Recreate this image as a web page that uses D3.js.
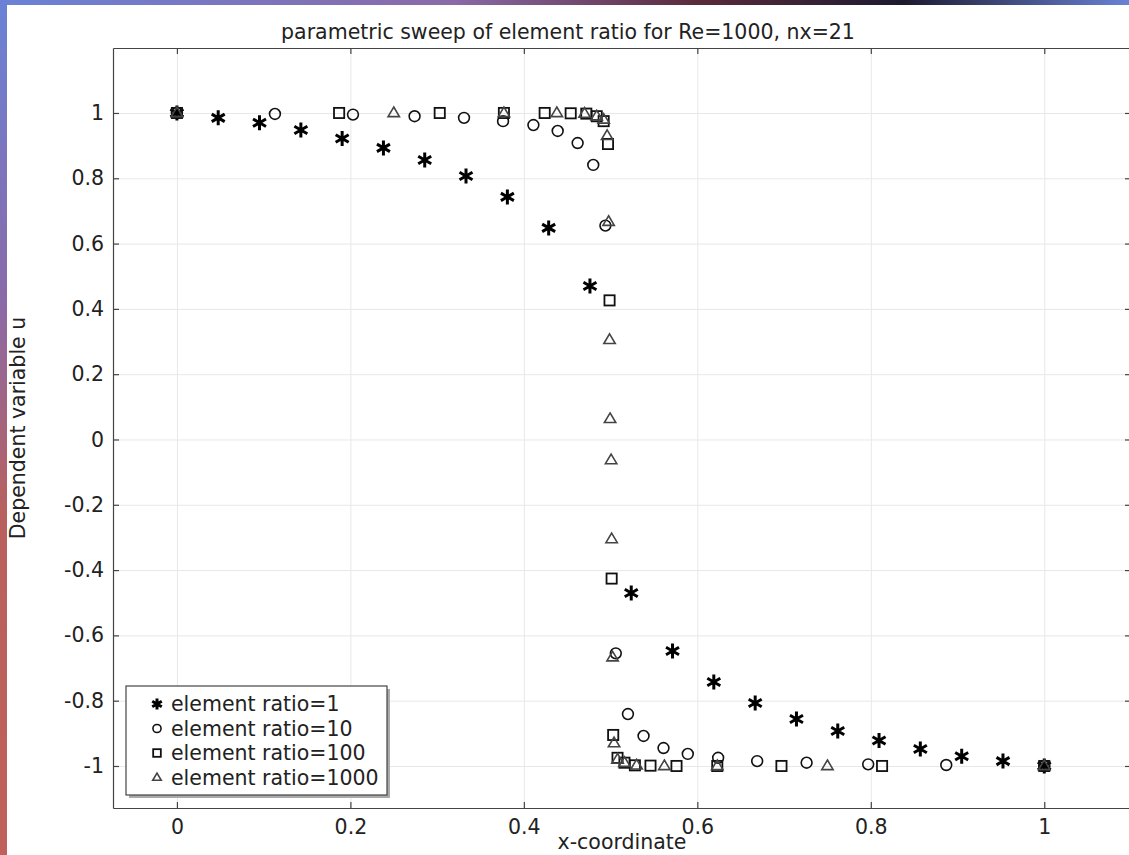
<!DOCTYPE html>
<html>
<head>
<meta charset="utf-8">
<script src="https://cdn.jsdelivr.net/npm/d3@7"></script>
<style>
  body { margin: 0; background: #fff; }
  svg { display: block; font-family: "DejaVu Sans", sans-serif; }
</style>
</head>
<body>
<div id="chart"></div>
<script>
// data: nodes of the 21-element mesh for each element ratio
var seriesNames = ['element ratio=1', 'element ratio=10', 'element ratio=100', 'element ratio=1000'];
var seriesMarkers = ['asterisk', 'circle', 'square', 'triangle'];

var xRatio1 = [0, 0.0476, 0.0952, 0.1429, 0.1905, 0.2381, 0.2857, 0.3333, 0.381, 0.4286, 0.4762,
    0.5238, 0.5714, 0.619, 0.6667, 0.7143, 0.7619, 0.8095, 0.8571, 0.9048, 0.9524, 1];
var uRatio1 = [1, 0.985, 0.97, 0.948, 0.922, 0.893, 0.856, 0.807, 0.743, 0.648, 0.47,
    -0.47, -0.648, -0.743, -0.807, -0.856, -0.893, -0.922, -0.948, -0.97, -0.985, -1];

var xRatio10 = [0, 0.113, 0.203, 0.274, 0.331, 0.376, 0.411, 0.439, 0.462, 0.48, 0.494,
    0.506, 0.52, 0.538, 0.561, 0.589, 0.624, 0.669, 0.726, 0.797, 0.887, 1];
var uRatio10 = [1, 0.997, 0.995, 0.99, 0.985, 0.975, 0.963, 0.945, 0.908, 0.841, 0.655,
    -0.655, -0.841, -0.908, -0.945, -0.963, -0.975, -0.985, -0.99, -0.995, -0.997, -1];

var xRatio100 = [0, 0.187, 0.303, 0.377, 0.424, 0.454, 0.472, 0.484, 0.492, 0.497, 0.4988,
    0.5012, 0.503, 0.508, 0.516, 0.528, 0.546, 0.576, 0.623, 0.697, 0.813, 1];
var uRatio100 = [1, 1, 1, 1, 1, 0.999, 0.998, 0.99, 0.975, 0.905, 0.426,
    -0.426, -0.905, -0.975, -0.99, -0.998, -0.999, -1, -1, -1, -1, -1];

var xRatio1000 = [0, 0.25, 0.377, 0.438, 0.47, 0.484, 0.492, 0.496, 0.4977, 0.4988, 0.4994,
    0.5006, 0.5012, 0.5023, 0.504, 0.508, 0.516, 0.53, 0.562, 0.623, 0.75, 1];
var uRatio1000 = [1, 1, 1, 1, 0.998, 0.99, 0.98, 0.93, 0.667, 0.305, 0.063,
    -0.063, -0.305, -0.667, -0.93, -0.98, -0.99, -0.998, -1, -1, -1, -1];

var xTicks = [0, 0.2, 0.4, 0.6, 0.8, 1];
var yTicks = [-1, -0.8, -0.6, -0.4, -0.2, 0, 0.2, 0.4, 0.6, 0.8, 1];

var allX = [xRatio1, xRatio10, xRatio100, xRatio1000];
var allU = [uRatio1, uRatio10, uRatio100, uRatio1000];

var W = 1129, H = 855;
var margin = {top: 48, right: -2, bottom: 47, left: 113};
var width = W - margin.left - margin.right,
    height = H - margin.top - margin.bottom;
var fontSize = '20.5px';

var svg = d3.select('#chart')
    .append('svg')
    .attr('width', W)
    .attr('height', H);

//Window frame decoration around the screenshot
var defs = svg.append('defs');
var gLeft = defs.append('linearGradient').attr('id', 'frameLeft')
    .attr('x1', 0).attr('y1', 0).attr('x2', 0).attr('y2', 1);
gLeft.append('stop').attr('offset', '0%').attr('stop-color', '#6a82d6');
gLeft.append('stop').attr('offset', '35%').attr('stop-color', '#8a6aa8');
gLeft.append('stop').attr('offset', '60%').attr('stop-color', '#b8605e');
gLeft.append('stop').attr('offset', '100%').attr('stop-color', '#c0605a');
var gTop = defs.append('linearGradient').attr('id', 'frameTop')
    .attr('x1', 0).attr('y1', 0).attr('x2', 1).attr('y2', 0);
gTop.append('stop').attr('offset', '0%').attr('stop-color', '#6a82d6');
gTop.append('stop').attr('offset', '40%').attr('stop-color', '#8a6aa8');
gTop.append('stop').attr('offset', '62%').attr('stop-color', '#5a2a3a');
gTop.append('stop').attr('offset', '80%').attr('stop-color', '#1c1a30');
gTop.append('stop').attr('offset', '100%').attr('stop-color', '#6a82d6');
svg.append('rect').attr('x', 0).attr('y', 0).attr('width', W).attr('height', 5).style('fill', 'url(#frameTop)');
svg.append('rect').attr('x', 0).attr('y', 0).attr('width', 7).attr('height', H).style('fill', 'url(#frameLeft)');

var x = d3.scaleLinear().domain([-0.0737, 1.1]).range([0, width]);
var y = d3.scaleLinear().domain([-1.1287, 1.199]).range([height, 0]);

var g = svg.append('g')
    .attr('transform', 'translate(' + margin.left + ',' + margin.top + ')');

var fmt = function(d){ return String(+d.toFixed(1)); };

//Grid lines
g.append('g')
    .attr('class', 'grid')
    .attr('transform', 'translate(0,' + height + ')')
    .call(d3.axisBottom(x).tickValues(xTicks).tickSize(-height).tickFormat(''));
g.append('g')
    .attr('class', 'grid')
    .call(d3.axisLeft(y).tickValues(yTicks).tickSize(-width).tickFormat(''));
g.selectAll('.grid .domain').remove();
g.selectAll('.grid line').style('stroke', '#e8e8e8').style('stroke-width', 1);

//Axes with inward ticks
var xAxis = g.append('g')
    .attr('transform', 'translate(0,' + height + ')')
    .call(d3.axisBottom(x).tickValues(xTicks).tickSizeInner(-6).tickSizeOuter(0).tickPadding(11).tickFormat(fmt));
var xAxisTop = g.append('g')
    .call(d3.axisTop(x).tickValues(xTicks).tickSizeInner(-6).tickSizeOuter(0).tickFormat(''));
var yAxis = g.append('g')
    .call(d3.axisLeft(y).tickValues(yTicks).tickSizeInner(-6).tickSizeOuter(0).tickPadding(9).tickFormat(fmt));
var yAxisRight = g.append('g')
    .attr('transform', 'translate(' + width + ',0)')
    .call(d3.axisRight(y).tickValues(yTicks).tickSizeInner(-6).tickSizeOuter(0).tickFormat(''));

[xAxis, xAxisTop, yAxis, yAxisRight].forEach(function(a){
    a.select('.domain').style('stroke', '#444').style('stroke-width', 1.2);
    a.selectAll('.tick line').style('stroke', '#444').style('stroke-width', 1.2);
    a.selectAll('.tick text')
        .style('font-family', '"DejaVu Sans", sans-serif')
        .style('font-size', fontSize)
        .style('fill', '#222');
});

//Markers
function drawMarker(sel, type, size){
    var r = size / 2;
    if (type === 'asterisk') {
        var a = r * Math.cos(Math.PI / 6), b = r * Math.sin(Math.PI / 6);
        sel.append('path')
            .attr('d', 'M0,' + (-r) + 'L0,' + r +
                'M' + (-a) + ',' + (-b) + 'L' + a + ',' + b +
                'M' + (-a) + ',' + b + 'L' + a + ',' + (-b))
            .style('stroke', '#000').style('stroke-width', 3).style('fill', 'none');
    } else if (type === 'circle') {
        sel.append('circle').attr('r', r * 0.9)
            .style('stroke', '#111').style('stroke-width', 1.6).style('fill', 'none');
    } else if (type === 'square') {
        sel.append('rect').attr('x', -r * 0.85).attr('y', -r * 0.85)
            .attr('width', r * 1.7).attr('height', r * 1.7)
            .style('stroke', '#111').style('stroke-width', 1.8).style('fill', 'none');
    } else {
        var h = r * 1.6;
        sel.append('path')
            .attr('d', 'M0,' + (-h * 0.62) + 'L' + (r * 0.95) + ',' + (h * 0.38) + 'L' + (-r * 0.95) + ',' + (h * 0.38) + 'Z')
            .style('stroke', '#444').style('stroke-width', 1.6).style('fill', 'none');
    }
}

allX.forEach(function(xs, s){
    var pts = xs.map(function(v, i){ return {x: v, u: allU[s][i]}; });
    g.append('g').selectAll('.pt' + s)
        .data(pts)
        .enter()
        .append('g')
        .attr('class', 'pt' + s)
        .attr('transform', function(d){ return 'translate(' + x(d.x) + ',' + y(d.u) + ')'; })
        .each(function(){ drawMarker(d3.select(this), seriesMarkers[s], s === 0 ? 15 : 12); });
});

//Title and axis labels
svg.append('text')
    .attr('x', 568)
    .attr('y', 39)
    .attr('text-anchor', 'middle')
    .style('font-size', fontSize)
    .style('fill', '#222')
    .text('parametric sweep of element ratio for Re=1000, nx=21');

svg.append('text')
    .attr('x', margin.left + width / 2)
    .attr('y', 849)
    .attr('text-anchor', 'middle')
    .style('font-size', fontSize)
    .style('fill', '#222')
    .text('x-coordinate');

svg.append('text')
    .attr('transform', 'translate(25,' + (margin.top + height / 2) + ') rotate(-90)')
    .attr('text-anchor', 'middle')
    .style('font-size', fontSize)
    .style('fill', '#222')
    .text('Dependent variable u');

//Legend
var lx = 126, ly = 686, lw = 261, lh = 109;
svg.append('rect')
    .attr('x', lx + 3).attr('y', ly + 3)
    .attr('width', lw).attr('height', lh)
    .style('fill', '#aaa');
svg.append('rect')
    .attr('x', lx).attr('y', ly)
    .attr('width', lw).attr('height', lh)
    .style('fill', '#fff')
    .style('stroke', '#444')
    .style('stroke-width', 1.2);

seriesNames.forEach(function(name, i){
    var rowY = ly + 18 + i * 24.5;
    var m = svg.append('g').attr('transform', 'translate(' + (lx + 31) + ',' + rowY + ')');
    drawMarker(m, seriesMarkers[i], i === 0 ? 11 : 9);
    svg.append('text')
        .attr('x', lx + 45)
        .attr('y', rowY + 7)
        .style('font-size', fontSize)
        .style('fill', '#222')
        .text(name);
});
</script>
</body>
</html>
